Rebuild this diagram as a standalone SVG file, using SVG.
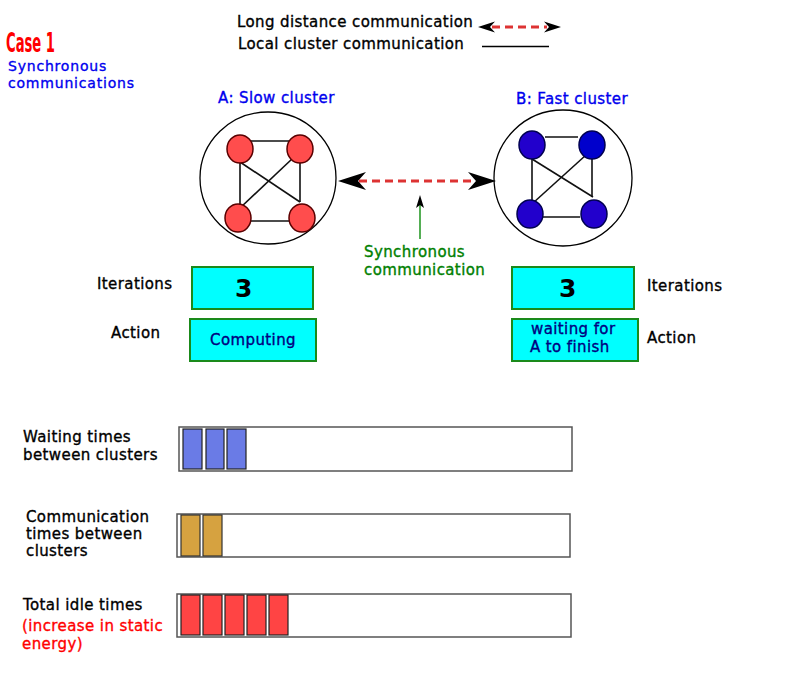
<svg xmlns="http://www.w3.org/2000/svg" width="800" height="698" viewBox="0 0 800 698">
<style>
text{font-family:"DejaVu Sans",sans-serif;font-size:15px;letter-spacing:0.4px;stroke-width:0.35px}
.k{fill:#000;stroke:#000}
.blue{fill:#0000ee;stroke:#0000ee}
.grn{fill:#008000;stroke:#008000}
.navy{fill:#000080;stroke:#000080}
.red{fill:#ff0000;stroke:#ff0000}
.edge{stroke:#111;stroke-width:1.6;fill:none}
.an{fill:#ff4d4d;stroke:#5a0000;stroke-width:1.5}
.bn{fill:#2200cc;stroke:#000050;stroke-width:1.5}
.ring{fill:#fff;stroke:#000;stroke-width:1.3}
.box{fill:#00ffff;stroke:#1a8a1a;stroke-width:2}
.big{font-size:25px;font-weight:bold;text-anchor:middle;stroke:none}
.bar{fill:#fff;stroke:#555;stroke-width:1.5}
.bw{fill:#6a7be6;stroke:#222;stroke-width:1.2}
.bc{fill:#d6a240;stroke:#333;stroke-width:1.2}
.br{fill:#ff4444;stroke:#222;stroke-width:1.2}
.dash{stroke:#dd3333;stroke-width:3;stroke-dasharray:8,5;fill:none}
.head{fill:#000}
.sub{font-size:14px;letter-spacing:0.8px}
</style>

<g id="title">
<text transform="translate(6,52) scale(1,1.25)" x="0" y="0" style="font-family:'DejaVu Sans Condensed','DejaVu Sans',sans-serif;font-weight:bold;font-size:21px;letter-spacing:0;stroke:none" class="red" textLength="49" lengthAdjust="spacingAndGlyphs">Case 1</text>
<text x="8" y="71" class="blue sub">Synchronous</text>
<text x="8" y="87.5" class="blue sub">communications</text>
</g>

<g id="legend">
<text x="237" y="27" class="k">Long distance communication</text>
<text x="238" y="49" class="k">Local cluster communication</text>
<line x1="492" y1="27" x2="547" y2="27" class="dash" stroke-dasharray="6,4"/>
<path class="head" d="M478,27 L495,21.5 L490,27 L495,32.5 Z"/>
<path class="head" d="M561,27 L544,21.5 L549,27 L544,32.5 Z"/>
<line x1="482" y1="46.5" x2="549" y2="46.5" stroke="#000" stroke-width="1.3"/>
</g>

<g id="clusterA">
<text x="218" y="103" class="blue">A: Slow cluster</text>
<ellipse class="ring" cx="268" cy="178" rx="68" ry="66"/>
<line class="edge" x1="250" y1="141" x2="290" y2="141"/>
<line class="edge" x1="240" y1="162" x2="240" y2="208"/>
<line class="edge" x1="300" y1="162" x2="300" y2="202"/>
<line class="edge" x1="248" y1="221" x2="290" y2="221"/>
<line class="edge" x1="240" y1="162" x2="300" y2="202"/>
<line class="edge" x1="293" y1="158" x2="240" y2="208"/>
<ellipse class="an" cx="240" cy="149" rx="13" ry="14"/>
<ellipse class="an" cx="300" cy="149" rx="13" ry="14"/>
<ellipse class="an" cx="238" cy="218" rx="13" ry="14"/>
<ellipse class="an" cx="302" cy="218" rx="13" ry="14"/>
</g>

<g id="clusterB">
<text x="516" y="104" class="blue">B: Fast cluster</text>
<ellipse class="ring" cx="563" cy="178" rx="69" ry="68"/>
<line class="edge" x1="545" y1="137" x2="578" y2="137"/>
<line class="edge" x1="532" y1="159" x2="532" y2="203"/>
<line class="edge" x1="592" y1="159" x2="592" y2="197"/>
<line class="edge" x1="541" y1="217" x2="580" y2="217"/>
<line class="edge" x1="532" y1="159" x2="593" y2="197"/>
<line class="edge" x1="586" y1="155" x2="533" y2="203"/>
<ellipse class="bn" cx="532" cy="145" rx="13" ry="14"/>
<ellipse class="bn" cx="592" cy="145" rx="13" ry="14" style="fill:#0000cc"/>
<ellipse class="bn" cx="530" cy="214" rx="13" ry="14"/>
<ellipse class="bn" cx="594" cy="214" rx="13" ry="14"/>
</g>

<g id="connectors">
<line x1="359" y1="181" x2="476" y2="181" class="dash"/>
<path class="head" d="M338,181 L366,172 L358,181 L366,190 Z"/>
<path class="head" d="M496,181 L468,172 L476,181 L468,190 Z"/>
<line x1="420" y1="239" x2="420" y2="204" stroke="#2a9a2a" stroke-width="1.6"/>
<path class="head" d="M420,195 L424,208 L420,205 L416,208 Z"/>
</g>

<g id="syncLabel">
<text x="364" y="257" class="grn">Synchronous</text>
<text x="364" y="275" class="grn">communication</text>
</g>

<g id="infoA">
<text x="97" y="289" class="k">Iterations</text>
<rect class="box" x="192" y="267" width="121" height="42"/>
<text x="244" y="297" class="big">3</text>
<text x="111" y="338" class="k">Action</text>
<rect class="box" x="190" y="319" width="126" height="42"/>
<text x="253" y="345" class="navy" text-anchor="middle">Computing</text>
</g>

<g id="infoB">
<rect class="box" x="512" y="267" width="122" height="42"/>
<text x="568" y="297" class="big">3</text>
<text x="647" y="291" class="k">Iterations</text>
<rect class="box" x="512" y="319" width="126" height="42"/>
<text x="531" y="334" class="navy">waiting for</text>
<text x="530" y="352" class="navy">A to finish</text>
<text x="647" y="343" class="k">Action</text>
</g>

<g id="waitingBar">
<text x="23" y="442" class="k">Waiting times</text>
<text x="23" y="460" class="k">between clusters</text>
<rect class="bar" x="179" y="427" width="393" height="44"/>
<rect class="bw" x="183" y="429" width="19" height="40"/>
<rect class="bw" x="206" y="429" width="18" height="40"/>
<rect class="bw" x="227" y="429" width="19" height="40"/>
</g>

<g id="commBar">
<text x="26" y="522" class="k">Communication</text>
<text x="26" y="539" class="k">times between</text>
<text x="26" y="556" class="k">clusters</text>
<rect class="bar" x="177" y="514" width="393" height="43"/>
<rect class="bc" x="181" y="515" width="19" height="41"/>
<rect class="bc" x="203" y="515" width="19" height="41"/>
</g>

<g id="idleBar">
<text x="23" y="610" class="k">Total idle times</text>
<text x="22" y="631" class="red">(increase in static</text>
<text x="22" y="649" class="red">energy)</text>
<rect class="bar" x="177" y="594" width="394" height="43"/>
<rect class="br" x="181" y="595" width="19" height="40"/>
<rect class="br" x="203" y="595" width="19" height="40"/>
<rect class="br" x="225" y="595" width="19" height="40"/>
<rect class="br" x="247" y="595" width="19" height="40"/>
<rect class="br" x="269" y="595" width="19" height="40"/>
</g>
</svg>
